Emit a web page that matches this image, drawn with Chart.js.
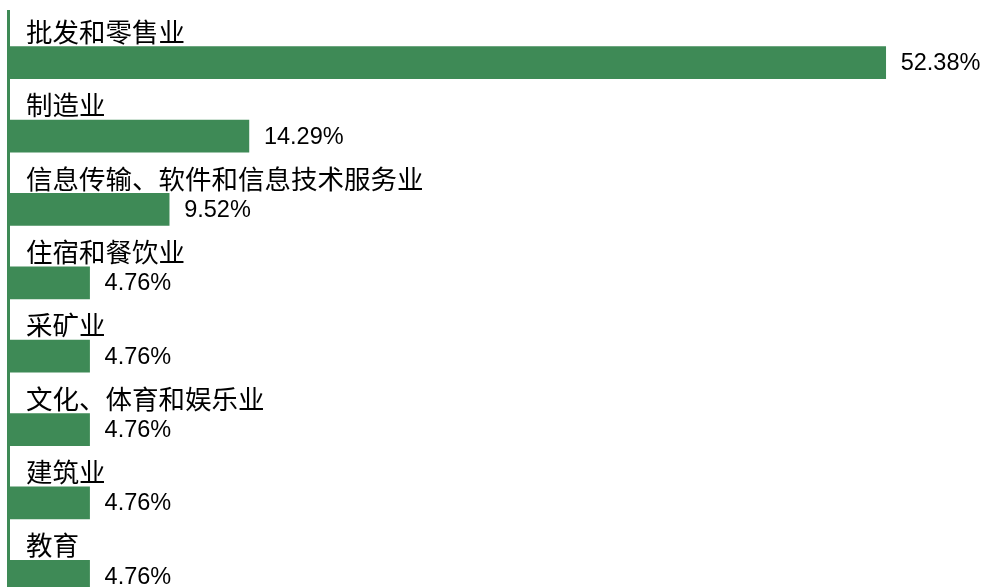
<!DOCTYPE html>
<html>
<head>
<meta charset="utf-8">
<script src="https://cdn.jsdelivr.net/npm/chart.js@4/dist/chart.umd.min.js"></script>
<style>
  html, body { margin: 0; padding: 0; background: #fff; overflow: hidden; }
  canvas { display: block; }
</style>
</head>
<body>
<canvas id="industryChart" width="983" height="613"></canvas>
<script>
// ---------------- Data ----------------

const industries = [
    "批发和零售业",
    "制造业",
    "信息传输、软件和信息技术服务业",
    "住宿和餐饮业",
    "采矿业",
    "文化、体育和娱乐业",
    "建筑业",
    "教育"
];

const shares = [52.38, 14.29, 9.52, 4.76, 4.76, 4.76, 4.76, 4.76];

const barGreen = "#3e8a56";

// ---------------- Plugins ----------------

// left axis line, runs from the top of the first label to the bottom
const axisLine = {
    id: "axisLine",
    afterDraw(chart) {
        const ctx = chart.ctx;
        const left = chart.chartArea.left;
        ctx.save();
        ctx.fillStyle = barGreen;
        ctx.fillRect(left - 3, 10, 3, chart.height - 10);
        ctx.restore();
    }
};

// percentage text to the right of each bar
const valueLabels = {
    id: "valueLabels",
    afterDatasetsDraw(chart) {
        const ctx = chart.ctx;
        const meta = chart.getDatasetMeta(0);
        ctx.save();
        ctx.font = "23.5px 'Liberation Sans', Arial, sans-serif";
        ctx.fillStyle = "#000";
        ctx.textAlign = "left";
        ctx.textBaseline = "middle";
        meta.data.forEach((bar, i) => {
            ctx.fillText(shares[i].toFixed(2) + "%", bar.x + 15, bar.y + 1);
        });
        ctx.restore();
    }
};

// ---------------- Chart ----------------

new Chart(document.getElementById("industryChart"), {
    type: "bar",
    data: {
        labels: industries,
        datasets: [{
            data: shares,
            backgroundColor: barGreen,
            borderWidth: 0,
            barThickness: 32
        }]
    },
    options: {
        indexAxis: "y",
        responsive: false,
        animation: false,
        layout: { padding: { top: 26, left: 0, right: 0, bottom: 0 } },
        plugins: {
            legend: { display: false },
            tooltip: { enabled: false }
        },
        scales: {
            x: {
                display: false,
                min: 0,
                max: 58.2
            },
            y: {
                position: "left",
                offset: true,
                grid: { display: false, drawTicks: false },
                border: { display: false },
                afterFit(scale) {
                    // labels sit inside the bands, no extra room needed
                    scale.width = 10;
                    scale.paddingTop = 0;
                    scale.paddingBottom = 0;
                },
                ticks: {
                    mirror: true,
                    autoSkip: false,
                    padding: 16,
                    labelOffset: -31,
                    color: "#000",
                    font: { family: "'Noto Sans CJK SC', sans-serif", size: 26.5 }
                }
            }
        }
    },
    plugins: [axisLine, valueLabels]
});
</script>
</body>
</html>
